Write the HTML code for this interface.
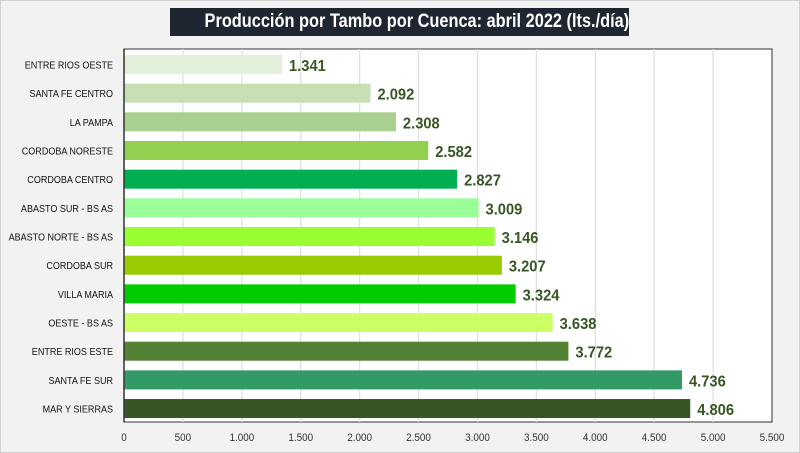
<!DOCTYPE html>
<html><head><meta charset="utf-8"><style>
body{margin:0;width:800px;height:453px;overflow:hidden;background:#f2f2f2;font-family:"Liberation Sans",sans-serif}
#frame{position:absolute;left:0;top:0;width:798px;height:451px;border:1px solid #d0d0d0;background:#f2f2f2}
#title{position:absolute;left:170px;top:8px;width:459px;height:28px;background:#1e2631;color:#fff;font-weight:bold;font-size:19px;line-height:28px;text-align:center;white-space:nowrap;overflow:hidden}
#title span{display:inline-block;transform:scaleX(0.86);transform-origin:center}
</style></head><body>
<div id="frame"></div>
<div id="title"><span>Producción por Tambo por Cuenca: abril 2022 (lts./día)</span></div>
<svg id="chart" width="800" height="453" style="position:absolute;left:0;top:0"></svg>
<script>
const categories=["ENTRE RIOS OESTE","SANTA FE CENTRO","LA PAMPA","CORDOBA NORESTE","CORDOBA CENTRO","ABASTO SUR - BS AS","ABASTO NORTE - BS AS","CORDOBA SUR","VILLA MARIA","OESTE - BS AS","ENTRE RIOS ESTE","SANTA FE SUR","MAR Y SIERRAS"];
const values=[1341,2092,2308,2582,2827,3009,3146,3207,3324,3638,3772,4736,4806];
const valueLabels=["1.341","2.092","2.308","2.582","2.827","3.009","3.146","3.207","3.324","3.638","3.772","4.736","4.806"];
const colors=["#e2efda","#c6e0b4","#a9d08e","#92d050","#00b050","#99ff99","#99ff33","#99cc00","#00cc00","#ccff66","#548235","#339966","#375623"];
const ticks=[0,500,1000,1500,2000,2500,3000,3500,4000,4500,5000,5500];
const tickLabels=["0","500","1.000","1.500","2.000","2.500","3.000","3.500","4.000","4.500","5.000","5.500"];
const NS="http://www.w3.org/2000/svg",svg=document.getElementById('chart');
const X0=124,X1=772,Y0=49,Y1=422,MAX=5500;
const x=v=>X0+v/MAX*(X1-X0);
const rowY=i=>55+i*28.67;
function mk(t,a){const e=document.createElementNS(NS,t);for(const k in a)e.setAttribute(k,a[k]);svg.appendChild(e);return e;}
const bg=mk('rect',{x:X0,y:Y0,width:X1-X0,height:Y1-Y0,fill:'#fff',stroke:'#333','stroke-width':1});


ticks.forEach((t,i)=>{
 if(t>0&&t<MAX){const g=mk('line',{x1:x(t),x2:x(t),y1:Y0,y2:Y1,stroke:'#e0e0e0','stroke-width':1.3});
 
 }
 const l=mk('text',{x:0,y:0,transform:`translate(${x(t)},441) scale(0.9,1)`,'text-anchor':'middle','font-size':11,fill:'#333'});
 l.textContent=tickLabels[i];
 
 
});
categories.forEach((c,i)=>{
 const y=rowY(i);
 const b=mk('rect',{x:X0,y:y,width:x(values[i])-X0,height:19,fill:colors[i]});
 
 
 const cl=mk('text',{x:0,y:0,transform:`translate(113,${y+13.5}) scale(0.86,1)`,'text-anchor':'end','font-size':10.5,fill:'#111'});
 cl.textContent=c;
 
 
 const vl=mk('text',{x:0,y:0,transform:`translate(${x(values[i])+7},${y+16}) scale(0.92,1)`,'font-size':16,'font-weight':'bold',fill:'#375623'});
 vl.textContent=valueLabels[i];
 
 
});
const ax=mk('line',{x1:X0,x2:X0,y1:Y0,y2:Y1,stroke:'#333','stroke-width':1.5});


</script>
</body></html>
